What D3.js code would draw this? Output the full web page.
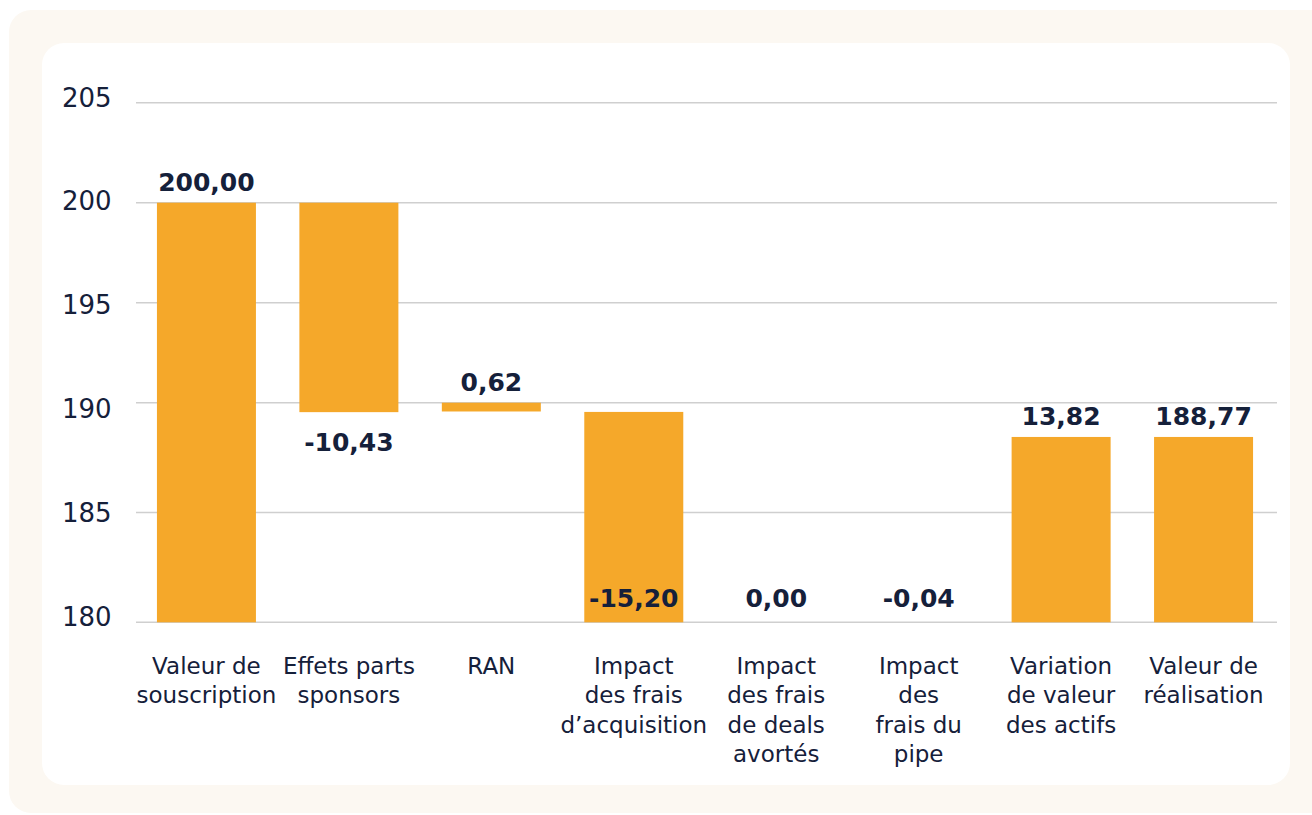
<!DOCTYPE html>
<html>
<head>
<meta charset="utf-8">
<script src="https://cdn.jsdelivr.net/npm/d3@7"></script>
<style>
  html, body { margin: 0; padding: 0; background: #ffffff; }
  svg { display: block; }
</style>
</head>
<body>
<svg id="chart" width="1312" height="815"></svg>
<script>
// ---- data ----
const categories = [
  ["Valeur de", "souscription"],
  ["Effets parts", "sponsors"],
  ["RAN"],
  ["Impact", "des frais", "d\u2019acquisition"],
  ["Impact", "des frais", "de deals", "avortés"],
  ["Impact", "des", "frais du", "pipe"],
  ["Variation", "de valeur", "des actifs"],
  ["Valeur de", "réalisation"]
];
const values = [200.00, -10.43, 0.62, -15.20, 0.00, -0.04, 13.82, 188.77];
const valueLabels = ["200,00", "-10,43", "0,62", "-15,20", "0,00", "-0,04", "13,82", "188,77"];
// bar extents
const barLow  = [0, 189.57, 189.60, 174.99, 174.99, 174.95, 174.95, 0];
const barHigh = [200, 200, 190.00, 189.58, 174.99, 174.99, 188.44, 188.44];
const yTicks = [180, 185, 190, 195, 200, 205];

// ---- layout ----
const svg = d3.select("#chart");
const navy = "#15203a";
const orange = "#F5A82A";
const font = "'DejaVu Sans', 'Noto Sans', sans-serif";

svg.append("rect").attr("x", 9).attr("y", 10).attr("width", 1330).attr("height", 803)
  .attr("rx", 22).attr("fill", "#fcf8f2");
svg.append("rect").attr("x", 42).attr("y", 43).attr("width", 1248).attr("height", 742)
  .attr("rx", 22).attr("fill", "#ffffff");

const x = d3.scaleBand()
  .domain(d3.range(categories.length))
  .range([136, 1274])
  .paddingInner(0.305)
  .paddingOuter(0.147);

const y = d3.scaleLinear().domain([180, 190, 205]).range([622.3, 402.7, 102.7]).clamp(true);
const yLabel = d3.scaleLinear().domain([180, 205]).range([617, 97.5]);

// gridlines
svg.append("g").selectAll("line").data(yTicks).join("line")
  .attr("x1", 136).attr("x2", 1277)
  .attr("y1", d => y(d)).attr("y2", d => y(d))
  .attr("stroke", "#cfcfcf").attr("stroke-width", 1.5);

// y tick labels
svg.append("g").selectAll("text").data(yTicks).join("text")
  .attr("x", 62).attr("y", d => yLabel(d))
  .attr("dominant-baseline", "central")
  .attr("font-family", font)
  .attr("font-size", 26)
  .attr("fill", navy)
  .text(d => d);

// bars
const idx = d3.range(categories.length);
svg.append("g").selectAll("rect").data(idx).join("rect")
  .attr("x", i => x(i))
  .attr("width", x.bandwidth())
  .attr("y", i => y(barHigh[i]))
  .attr("height", i => Math.max(0, y(barLow[i]) - y(barHigh[i])))
  .attr("fill", orange);

// value labels
svg.append("g").selectAll("text").data(idx).join("text")
  .attr("x", i => x(i) + x.bandwidth() / 2)
  .attr("y", i => {
    if (values[i] > 0) return y(barHigh[i]) - 12;
    if (barLow[i] < 180) return y(180) - 15.5;
    return y(barLow[i]) + 38.5;
  })
  .attr("text-anchor", "middle")
  .attr("font-family", font)
  .attr("font-weight", "bold")
  .attr("font-size", 25)
  .attr("fill", navy)
  .text(i => valueLabels[i]);

// category labels
const cat = svg.append("g").selectAll("text").data(idx).join("text")
  .attr("text-anchor", "middle")
  .attr("font-family", font)
  .attr("font-size", 23)
  .attr("fill", navy);
cat.each(function(i) {
  const t = d3.select(this);
  categories[i].forEach((line, k) => {
    t.append("tspan")
      .attr("x", x(i) + x.bandwidth() / 2)
      .attr("y", 674 + k * 29.3)
      .text(line);
  });
});
</script>
</body>
</html>
